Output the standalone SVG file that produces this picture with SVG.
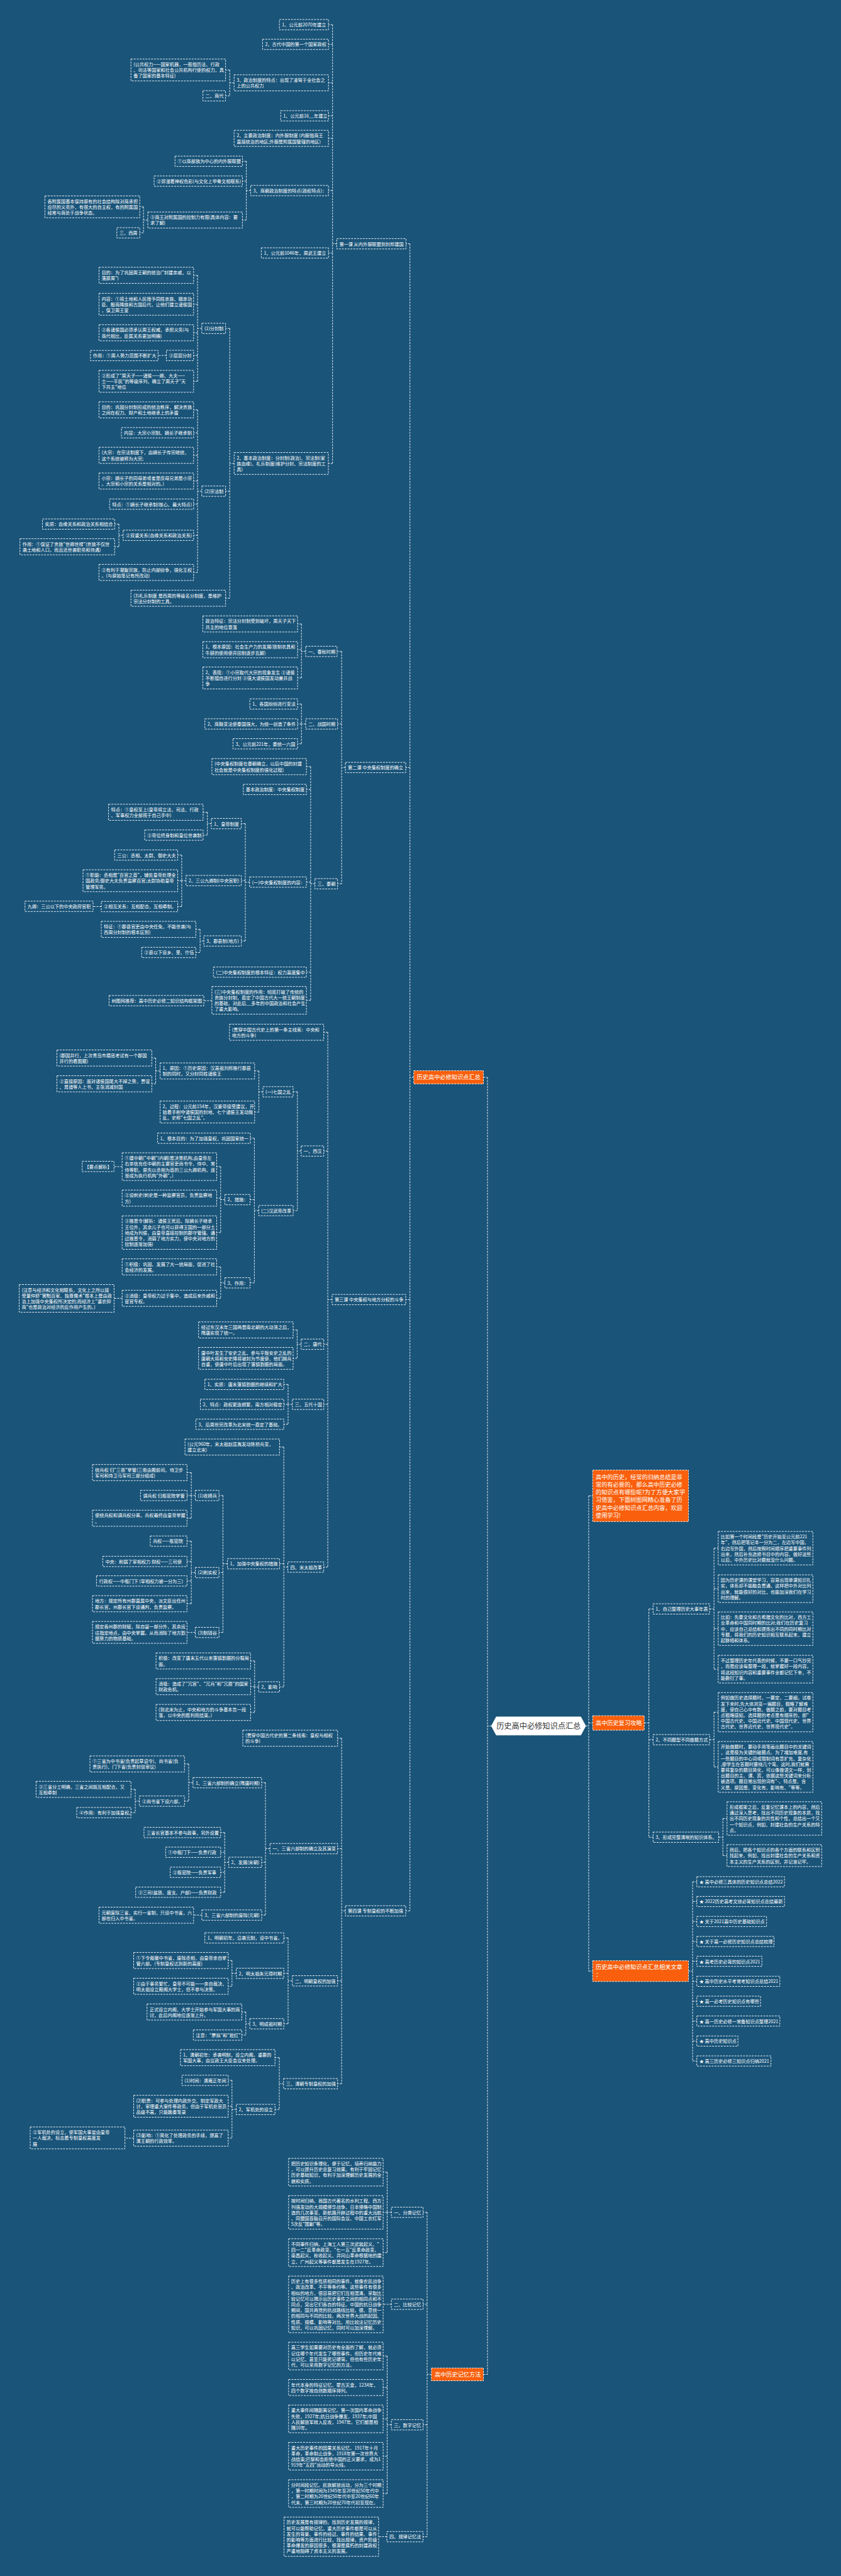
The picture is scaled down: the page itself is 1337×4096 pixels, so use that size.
<svg xmlns="http://www.w3.org/2000/svg" width="1337" height="4096" viewBox="0 0 1337 4096">
<style>
.bg{fill:#1a5479}
.n rect{fill:none;stroke:#fff;stroke-width:.9;stroke-dasharray:3 1.6}
.n text{fill:#fff;font-family:"Noto Sans CJK SC","Noto Sans",sans-serif;font-size:7.2px}
.o rect{fill:#f95f0c;stroke:#fff;stroke-width:.9;stroke-dasharray:3 1.6}
.o text{fill:#fff;font-family:"Noto Sans CJK SC","Noto Sans",sans-serif;font-size:9.2px}
.c path{fill:none;stroke:#fff;stroke-width:.9;stroke-dasharray:3 1.6}
.ctr polygon{fill:#fff;stroke:#fff;stroke-width:1}
.ctr text{fill:#333;font-family:"Noto Sans CJK SC","Noto Sans",sans-serif;font-size:12.2px;text-anchor:middle}
</style>
<rect class="bg" x="0" y="0" width="1337" height="4096"/>
<g id="connectors" class="c">
<path d="M657.8 1713H651.7M651.7 387.6V3038.4M651.7 387.6H645.4M651.7 1220.4H645M651.7 2066.4H645M651.7 3038.4H645"/>
<path d="M768.5 1713H775M775 1713V3775.4M781.3 2744.4H775M768.5 3775.4H775"/>
<path d="M931 2744.4H935.9M935.9 2378.5V3134.2M935.9 2378.5H942.2M935.9 2739.6H942.2M935.9 3134.2H942.2"/>
<path d="M535.4 387.6H528.7M528.7 39.2V736.9M528.7 39.2H522.2M528.7 70.5H522.2M528.7 131.7H522.2M528.7 184.1H522.2M528.7 220H522.2M528.7 303H522.2M528.7 402.2H522.2M528.7 736.9H522"/>
<path d="M372.2 131.7H365.2M365.2 111.3V152.4M365.2 111.3H358.6M365.2 152.4H358.6"/>
<path d="M398.6 303H391.6M391.6 256.4V349.9M391.6 256.4H385.4M391.6 288H385.4M391.6 349.9H385.4"/>
<path d="M235 349.9H228.1M228.1 328.9V370.2M228.1 328.9H222.2M228.1 370.2H222.2"/>
<path d="M372.2 736.9H365.2M365.2 522.2V951.2M365.2 522.2H358.6M365.2 781H358.6M365.2 951.2H358.6"/>
<path d="M320.9 522.2H314.1M314.1 437.8V606.3M314.1 437.8H307.8M314.1 483.8H307.8M314.1 529.1H307.8M314.1 565.2H307.8M314.1 606.3H307.8"/>
<path d="M264.5 565.2H251.3"/>
<path d="M320.9 781H314.1M314.1 651.7V910.2M314.1 651.7H307.8M314.1 688.1H307.8M314.1 724H307.8M314.1 764.9H307.8M314.1 801.6H307.8M314.1 851.2H307.8M314.1 910.2H307.8"/>
<path d="M195.8 851.2H189M189 833.3V869.4M189 833.3H182.2M189 869.4H182.2"/>
<path d="M549.1 1220.4H543.1M543.1 1035.8V1405.2M543.1 1035.8H535.9M543.1 1151.1H536.7M543.1 1405.2H536.7"/>
<path d="M486 1035.8H479.2M479.2 992.1V1078M479.2 992.1H473.1M479.2 1033.1H473.1M479.2 1078H473.1"/>
<path d="M486 1151.1H479.2M479.2 1119.4V1182.7M479.2 1119.4H473.1M479.2 1151.1H473.1M479.2 1182.7H473.1"/>
<path d="M500.7 1405.2H493.9M493.9 1219V1590.6M493.9 1219H487.1M493.9 1255.3H487.1M493.9 1402.6H487.1M493.9 1545.8H487.1M493.9 1590.6H487.1"/>
<path d="M396.8 1402.6H390M390 1309.6V1496.2M390 1309.6H383.6M390 1400.2H383.6M390 1496.2H383.6"/>
<path d="M336 1309.6H329.7M329.7 1291.6V1327.9M329.7 1291.6H322.9M329.7 1327.9H322.9"/>
<path d="M295.7 1400.2H288.9M288.9 1359.6V1441.5M288.9 1359.6H282.5M288.9 1400.4H282.5M288.9 1441.5H282.5"/>
<path d="M161 1441.5H148"/>
<path d="M324 1496.2H318.1M318.1 1477.8V1514.5M318.1 1477.8H311.3M318.1 1514.5H311.3"/>
<path d="M336.9 1591.1H324.1"/>
<path d="M527.9 2066.4H521.1M521.1 1641.3V2491.8M521.1 1641.3H514.7M521.1 1830.2H514.7M521.1 2137.4H514.7M521.1 2233H514.7M521.1 2491.8H514.7"/>
<path d="M478.8 1830.2H472.8M472.8 1736V1924.9M472.8 1736H466M472.8 1924.9H466"/>
<path d="M418 1736H411.6M411.6 1702.9V1768.2M411.6 1702.9H404.8M411.6 1768.2H404.8"/>
<path d="M254.5 1702.9H247.5M247.5 1682.3V1723.3M247.5 1682.3H241.3M247.5 1723.3H241.3"/>
<path d="M411.2 1924.9H404.4M404.4 1809.9V2039.8M404.4 1809.9H398M404.4 1907.5H397.6M404.4 2039.8H397.6"/>
<path d="M357.6 1907.5H350.8M350.8 1855V1959.9M350.8 1855H344.5M350.8 1905.1H344.5M350.8 1959.9H344.5"/>
<path d="M194.2 1855H181.2"/>
<path d="M357.6 2039.8H350.8M350.8 2014.4V2064.4M350.8 2014.4H344.5M350.8 2064.4H344.5"/>
<path d="M194.2 2064.4H181.4"/>
<path d="M478.8 2137.4H472.4M472.4 2114.7V2159.9M472.4 2114.7H466M472.4 2159.9H466"/>
<path d="M464.8 2233H458M458 2201.3V2264.6M458 2201.3H451.2M458 2233H451.2M458 2264.6H451.2"/>
<path d="M457.6 2491.8H451.2M451.2 2300.9V2682.3M451.2 2300.9H444.4M451.2 2486.5H444.4M451.2 2682.3H444.4"/>
<path d="M361.6 2486.5H354.4M354.4 2377.9V2595.7M354.4 2377.9H348.1M354.4 2500.5H348.1M354.4 2595.7H348.1"/>
<path d="M310.5 2377.9H304.1M304.1 2341.5V2414.1M304.1 2341.5H297.3M304.1 2377.9H297.3M304.1 2414.1H297.3"/>
<path d="M310.5 2500.5H304.1M304.1 2450.5V2550M304.1 2450.5H297.3M304.1 2482.8H297.3M304.1 2513.8H297.3M304.1 2550H297.3"/>
<path d="M310.5 2595.7H297.3"/>
<path d="M411.2 2682.3H404.8M404.8 2641V2722.9M404.8 2641H398.4M404.8 2681.9H398.4M404.8 2722.9H398.4"/>
<path d="M549.1 3038.4H543.1M543.1 2763.9V3313.2M543.1 2763.9H536.7M543.1 2939.5H536.7M543.1 3149.7H536.7M543.1 3313.2H536.7"/>
<path d="M429.2 2939.5H422M422 2834.6V3045.1M422 2834.6H416M422 2961.2H416M422 3045.1H416"/>
<path d="M306.9 2834.6H300M300 2804.8V2863.9M300 2804.8H293.3M300 2863.9H293.3"/>
<path d="M221.7 2863.9H215M215 2845.2V2882.2M215 2845.2H208.2M215 2882.2H208.2"/>
<path d="M363.6 2961.2H357.2M357.2 2913.8V3008.8M357.2 2913.8H350.8M357.2 2945.2H350.8M357.2 2977.1H350.8M357.2 3008.8H350.8"/>
<path d="M320.9 3045.1H307.8"/>
<path d="M464.8 3149.7H458M458 3081.4V3217.9M458 3081.4H451.2M458 3137.7H451.2M458 3217.9H451.2"/>
<path d="M375.6 3137.7H368.8M368.8 3117.3V3158.3M368.8 3117.3H362.8M368.8 3158.3H362.8"/>
<path d="M397.2 3217.9H390.8M390.8 3199.2V3235.9M390.8 3199.2H384.4M390.8 3235.9H384.4"/>
<path d="M450.8 3313.2H444M444 3271.8V3354.2M444 3271.8H437.2M444 3354.2H437.2"/>
<path d="M375.6 3354.2H368.8M368.8 3307.9V3399.8M368.8 3307.9H362.8M368.8 3349.1H362.8M368.8 3399.8H362.8"/>
<path d="M212.5 3399.8H198.6"/>
<path d="M685.8 3775.4H679M679 3517.7V4033.5M679 3517.7H672.6M679 3663.9H672.6M679 3855.6H672.6M679 4033.5H672.6"/>
<path d="M622.2 3517.7H615.5M615.5 3453.9V3581.8M615.5 3453.9H609.1M615.5 3517.8H609.1M615.5 3581.8H609.1"/>
<path d="M622.2 3663.9H609.1"/>
<path d="M622.2 3855.6H615.5M615.5 3746.2V3964.9M615.5 3746.2H609.1M615.5 3796.3H609.1M615.5 3846.2H609.1M615.5 3905.5H609.1M615.5 3964.9H609.1"/>
<path d="M615 4033.5H601.9"/>
<path d="M1024.2 2739.6H1031.6M1031.6 2558.3V2921.3M1031.6 2558.3H1038.3M1031.6 2766.2H1038.3M1031.6 2921.3H1038.3"/>
<path d="M1128.1 2558.3H1135.1M1135.1 2461.7V2654.1M1135.1 2461.7H1141.8M1135.1 2526.1H1141.8M1135.1 2589.7H1141.8M1135.1 2654.1H1141.8"/>
<path d="M1128.1 2766.2H1135.1M1135.1 2722.5V2809.5M1135.1 2722.5H1141.8M1135.1 2809.5H1141.8"/>
<path d="M1142.5 2921.3H1149.2M1149.2 2891.5V2950.5M1149.2 2891.5H1155.8M1149.2 2950.5H1155.8"/>
<path d="M1094.5 3134.2H1101.1M1101.1 2992.1V3277.1M1101.1 2992.1H1107.8M1101.1 3023.5H1107.8M1101.1 3055.3H1107.8M1101.1 3087.1H1107.8M1101.1 3118.6H1107.8M1101.1 3150.4H1107.8M1101.1 3182.1H1107.8M1101.1 3213.6H1107.8M1101.1 3245.4H1107.8M1101.1 3277.1H1107.8"/>
</g>

<g id="center" class="ctr"><polygon points="781.3,2744.4 789,2730 923.3,2730 931,2744.4 923.3,2758.8 789,2758.8"/><text x="856.2" y="2748.7">历史高中必修知识点汇总</text></g>

<g id="R1" class="o"><rect x="657.8" y="1702.5" width="110.7" height="21"/><text x="662.6" y="1716.3">历史高中必修知识点汇总</text></g>
<g id="R4" class="o"><rect x="685.8" y="3765.3" width="82.7" height="20.2"/><text x="690.9" y="3779.3">高中历史记忆方法</text></g>
<g id="O1" class="o"><rect x="942.2" y="2337.5" width="152.3" height="81.9"/><text x="947" y="2351.5"><tspan>高中的历史，经常的归纳总结是非</tspan><tspan x="947" dy="12.3">常的有必要的，那么高中历史必修</tspan><tspan x="947" dy="12.3">的知识点有哪些呢?为了方便大家学</tspan><tspan x="947" dy="12.3">习借鉴，下面树图网精心准备了历</tspan><tspan x="947" dy="12.3">史高中必修知识点汇总内容，欢迎</tspan><tspan x="947" dy="12.3">使用学习!</tspan></text></g>
<g id="O2" class="o"><rect x="942.2" y="2728.1" width="82" height="23"/><text x="947" y="2742.9">高中历史复习攻略</text></g>
<g id="O3" class="o"><rect x="942.2" y="3117.7" width="152.3" height="33"/><text x="947" y="3131"><tspan>历史高中必修知识点汇总相关文章</tspan><tspan x="947" dy="12.3">：</tspan></text></g>

<g id="n1" class="n"><rect x="444.2" y="31" width="78" height="16.4"/><text x="448.2" y="42.1">1、公元前2070年建立</text></g>
<g id="n2" class="n"><rect x="417.4" y="62.3" width="104.8" height="16.4"/><text x="421.4" y="73.4">2、古代中国的第一个国家政权</text></g>
<g id="n3" class="n"><rect x="372.2" y="118.9" width="150" height="25.6"/><text x="376.2" y="130"><tspan>3、政治制度的特点：出现了凌驾于全社会之</tspan><tspan x="376.2" dy="9.2">上的公共权力</tspan></text></g>
<g id="n4" class="n"><rect x="208.2" y="93.9" width="150.4" height="34.8"/><text x="212.2" y="105"><tspan>(公共权力——国家机器，一般指历法、行政</tspan><tspan x="212.2" dy="9.2">、司法等国家和社会公共机构行使的权力，具</tspan><tspan x="212.2" dy="9.2">备了国家的基本特征)</tspan></text></g>
<g id="n5" class="n"><rect x="322.6" y="144.2" width="36" height="16.4"/><text x="326.6" y="155.3">二、商代</text></g>
<g id="n6" class="n"><rect x="446.2" y="175.9" width="76" height="16.4"/><text x="450.2" y="187">1、公元前16__年建立</text></g>
<g id="n7" class="n"><rect x="372.2" y="207.2" width="150" height="25.6"/><text x="376.2" y="218.3"><tspan>2、主要政治制度：内外服制度 (内服指商王</tspan><tspan x="376.2" dy="9.2">直接统治的地区;外服是附属国管辖的地区)</tspan></text></g>
<g id="n8" class="n"><rect x="398.6" y="294.8" width="123.6" height="16.4"/><text x="402.6" y="305.9">3、商朝政治制度的特点(政权特点)：</text></g>
<g id="n9" class="n"><rect x="278.2" y="248.2" width="107.2" height="16.4"/><text x="282.2" y="259.3">①以商部族为中心的内外服联盟</text></g>
<g id="n10" class="n"><rect x="245" y="279.8" width="140.4" height="16.4"/><text x="249" y="290.9">②弥漫着神权色彩(与文化上甲骨文相联系)</text></g>
<g id="n11" class="n"><rect x="235" y="337.1" width="150.4" height="25.6"/><text x="239" y="348.2"><tspan>③商王对附属国的控制力有限(具体内容：要</tspan><tspan x="239" dy="9.2">求了解)</tspan></text></g>
<g id="n12" class="n"><rect x="71.4" y="311.5" width="150.8" height="34.8"/><text x="75.4" y="322.6"><tspan>各附属国基本保持原有的社会结构除对商承担</tspan><tspan x="75.4" dy="9.2">应尽的义务外，有很大的自主权，有的附属国</tspan><tspan x="75.4" dy="9.2">经常与商处于战争状态。</tspan></text></g>
<g id="n13" class="n"><rect x="185.8" y="362" width="36.4" height="16.4"/><text x="189.8" y="373.1">三、西周</text></g>
<g id="n14" class="n"><rect x="535.4" y="379.4" width="110" height="16.4"/><text x="539.4" y="390.5">第一课 从内外服联盟到封邦建国</text></g>
<g id="n15" class="n"><rect x="415.4" y="394" width="106.8" height="16.4"/><text x="419.4" y="405.1">1、公元前1046年，周武王建立</text></g>
<g id="n16" class="n"><rect x="157.4" y="425" width="150.4" height="25.6"/><text x="161.4" y="436.1"><tspan>目的：为了巩固周王朝的统治("封建亲戚，以</tspan><tspan x="161.4" dy="9.2">藩屏周")</tspan></text></g>
<g id="n17" class="n"><rect x="157.4" y="466.4" width="150.4" height="34.8"/><text x="161.4" y="477.5"><tspan>内容：①将土地和人民授予同姓亲族、姻亲功</tspan><tspan x="161.4" dy="9.2">臣、殷商降族和古国后代，让他们建立诸侯国</tspan><tspan x="161.4" dy="9.2">，保卫周王室</tspan></text></g>
<g id="n18" class="n"><rect x="320.9" y="514" width="37.7" height="16.4"/><text x="324.9" y="525.1">(1)分封制</text></g>
<g id="n19" class="n"><rect x="157.4" y="516.3" width="150.4" height="25.6"/><text x="161.4" y="527.4"><tspan>②各诸侯国必须承认周王权威，承担义务(与</tspan><tspan x="161.4" dy="9.2">商代相比，臣属关系更加明确)</tspan></text></g>
<g id="n20" class="n"><rect x="264.5" y="557" width="43.3" height="16.4"/><text x="268.5" y="568.1">③层层分封</text></g>
<g id="n21" class="n"><rect x="143.8" y="557.2" width="107.5" height="16.4"/><text x="147.8" y="568.3">作用：①周人势力范围不断扩大</text></g>
<g id="n22" class="n"><rect x="157.4" y="588.9" width="150.4" height="34.8"/><text x="161.4" y="600"><tspan>②形成了"周天子——诸侯——卿、大夫——</tspan><tspan x="161.4" dy="9.2">士——平民"的等级序列，确立了周天子"天</tspan><tspan x="161.4" dy="9.2">下共主"地位</tspan></text></g>
<g id="n23" class="n"><rect x="157.4" y="638.9" width="150.4" height="25.6"/><text x="161.4" y="650"><tspan>目的：巩固分封制形成的统治秩序，解决贵族</tspan><tspan x="161.4" dy="9.2">之间在权力、财产和土地继承上的矛盾</tspan></text></g>
<g id="n24" class="n"><rect x="193" y="679.9" width="114.8" height="16.4"/><text x="197" y="691">内容：大宗小宗制、嫡长子继承制</text></g>
<g id="n25" class="n"><rect x="157.4" y="711.2" width="150.4" height="25.6"/><text x="161.4" y="722.3"><tspan>(大宗：在宗法制度下，由嫡长子传宗继统，</tspan><tspan x="161.4" dy="9.2">这个系统被称为大宗;</tspan></text></g>
<g id="n26" class="n"><rect x="157.4" y="752.1" width="150.4" height="25.6"/><text x="161.4" y="763.2"><tspan>小宗：嫡长子的同母弟或者是庶母兄弟是小宗</tspan><tspan x="161.4" dy="9.2">。大宗和小宗的关系是相对的。)</tspan></text></g>
<g id="n27" class="n"><rect x="320.9" y="772.8" width="37.7" height="16.4"/><text x="324.9" y="783.9">(2)宗法制</text></g>
<g id="n28" class="n"><rect x="174.2" y="793.4" width="133.6" height="16.4"/><text x="178.2" y="804.5">特点：①嫡长子继承制(核心、最大特点)</text></g>
<g id="n29" class="n"><rect x="67.5" y="825.1" width="114.7" height="16.4"/><text x="71.5" y="836.2">实质：血缘关系和政治关系相结合</text></g>
<g id="n30" class="n"><rect x="195.8" y="843" width="112" height="16.4"/><text x="199.8" y="854.1">②双重关系(血缘关系和政治关系)</text></g>
<g id="n31" class="n"><rect x="31.7" y="856.6" width="150.5" height="25.6"/><text x="35.7" y="867.7"><tspan>作用：①保证了贵族"世卿世禄"(贵族不仅世</tspan><tspan x="35.7" dy="9.2">袭土地和人口，而且还世袭职务和待遇)</tspan></text></g>
<g id="n32" class="n"><rect x="157.4" y="897.4" width="150.4" height="25.6"/><text x="161.4" y="908.5"><tspan>②有利于凝聚宗族，防止内部纷争，强化王权</tspan><tspan x="161.4" dy="9.2">。(与原始笔记有所改动)</tspan></text></g>
<g id="n33" class="n"><rect x="208.2" y="938.4" width="150.4" height="25.6"/><text x="212.2" y="949.5"><tspan>(3)礼乐制度 是西周的等级名分制度，是维护</tspan><tspan x="212.2" dy="9.2">宗法分封制的工具。</tspan></text></g>
<g id="n34" class="n"><rect x="372.2" y="719.5" width="149.8" height="34.8"/><text x="376.2" y="730.6"><tspan>2、基本政治制度：分封制(政治)、宗法制(家</tspan><tspan x="376.2" dy="9.2">族血缘)、礼乐制度(维护分封、宗法制度的工</tspan><tspan x="376.2" dy="9.2">具)</tspan></text></g>

<g id="m1" class="n"><rect x="486" y="1027.6" width="49.9" height="16.4"/><text x="490" y="1038.7">一、春秋时期</text></g>
<g id="m2" class="n"><rect x="322.5" y="979.3" width="150.6" height="25.6"/><text x="326.5" y="990.4"><tspan>政治特征：宗法分封制受到破坏，周天子天下</tspan><tspan x="326.5" dy="9.2">共主的地位衰落</tspan></text></g>
<g id="m3" class="n"><rect x="322.5" y="1020.3" width="150.6" height="25.6"/><text x="326.5" y="1031.4"><tspan>1、根本原因：社会生产力的发展(铁制农具和</tspan><tspan x="326.5" dy="9.2">牛耕的使用使井田制逐步瓦解)</tspan></text></g>
<g id="m4" class="n"><rect x="322.5" y="1060.6" width="150.6" height="34.8"/><text x="326.5" y="1071.7"><tspan>2、表现：①小宗取代大宗的现象发生 ②诸侯</tspan><tspan x="326.5" dy="9.2">不断擅自进行分封 ③强大诸侯国发动兼并战</tspan><tspan x="326.5" dy="9.2">争</tspan></text></g>
<g id="m5" class="n"><rect x="397.2" y="1111.2" width="75.9" height="16.4"/><text x="401.2" y="1122.3">1、各国纷纷进行变法</text></g>
<g id="m6" class="n"><rect x="325.7" y="1142.9" width="147.4" height="16.4"/><text x="329.7" y="1154">2、商鞅变法使秦国强大，为统一创造了条件</text></g>
<g id="m7" class="n"><rect x="486" y="1142.9" width="50.7" height="16.4"/><text x="490" y="1154">二、战国时期</text></g>
<g id="m8" class="n"><rect x="370.4" y="1174.5" width="102.7" height="16.4"/><text x="374.4" y="1185.6">3、公元前221年，秦统一六国</text></g>
<g id="m9" class="n"><rect x="336.9" y="1206.2" width="150.2" height="25.6"/><text x="340.9" y="1217.3"><tspan>(中央集权制度在秦朝确立，以后中国的封建</tspan><tspan x="340.9" dy="9.2">社会就是中央集权制度的强化过程)</tspan></text></g>
<g id="m10" class="n"><rect x="549.1" y="1212.2" width="95.9" height="16.4"/><text x="553.1" y="1223.3">第二课 中央集权制度的确立</text></g>
<g id="m11" class="n"><rect x="386.8" y="1247.1" width="100.3" height="16.4"/><text x="390.8" y="1258.2">基本政治制度：中央集权制度</text></g>
<g id="m12" class="n"><rect x="172.6" y="1278.8" width="150.3" height="25.6"/><text x="176.6" y="1289.9"><tspan>特点：①皇权至上(皇帝将立法、司法、行政</tspan><tspan x="176.6" dy="9.2">、军事权力全部揽于自己手中)</tspan></text></g>
<g id="m13" class="n"><rect x="336" y="1301.4" width="47.6" height="16.4"/><text x="340" y="1312.5">1、皇帝制度</text></g>
<g id="m14" class="n"><rect x="230.1" y="1319.7" width="92.8" height="16.4"/><text x="234.1" y="1330.8">②帝位终身制和皇位世袭制</text></g>
<g id="m15" class="n"><rect x="182.2" y="1351.4" width="100.3" height="16.4"/><text x="186.2" y="1362.5">三公：丞相、太尉、御史大夫</text></g>
<g id="m16" class="n"><rect x="132" y="1383" width="150.5" height="34.8"/><text x="136" y="1394.1"><tspan>①职能：丞相是"百官之首"，辅佐皇帝处理全</tspan><tspan x="136" dy="9.2">国政务;御史大夫负责监察百官;太尉协助皇帝</tspan><tspan x="136" dy="9.2">管理军务。</tspan></text></g>
<g id="m17" class="n"><rect x="295.7" y="1392" width="87.9" height="16.4"/><text x="299.7" y="1403.1">2、三公九卿制(中央官职)</text></g>
<g id="m18" class="n"><rect x="396.8" y="1394.4" width="90.3" height="16.4"/><text x="400.8" y="1405.5">(一)中央集权制度的内容：</text></g>
<g id="m19" class="n"><rect x="500.7" y="1397" width="36" height="16.4"/><text x="504.7" y="1408.1">三、秦朝</text></g>
<g id="m20" class="n"><rect x="161" y="1433.3" width="121.5" height="16.4"/><text x="165" y="1444.4">②相互关系：互相配合、互相牵制。</text></g>
<g id="m21" class="n"><rect x="39.7" y="1432.9" width="108.3" height="16.4"/><text x="43.7" y="1444">九卿：三公以下的中央政府官职</text></g>
<g id="m22" class="n"><rect x="161" y="1465" width="150.3" height="25.6"/><text x="165" y="1476.1"><tspan>特征：①郡县官吏由中央任免，不能世袭(与</tspan><tspan x="165" dy="9.2">西周分封制的根本区别)</tspan></text></g>
<g id="m23" class="n"><rect x="324" y="1488" width="59.6" height="16.4"/><text x="328" y="1499.1">3、郡县制(地方)</text></g>
<g id="m24" class="n"><rect x="225.3" y="1506.3" width="86" height="16.4"/><text x="229.3" y="1517.4">②县以下设乡、里、什伍</text></g>
<g id="m25" class="n"><rect x="339.3" y="1537.6" width="147.8" height="16.4"/><text x="343.3" y="1548.7">(二)中央集权制度的根本特征：权力高度集中</text></g>
<g id="m26" class="n"><rect x="336.9" y="1568.6" width="150.2" height="44"/><text x="340.9" y="1579.7"><tspan>(三)中央集权制度的作用：彻底打破了传统的</tspan><tspan x="340.9" dy="9.2">贵族分封制，奠定了中国古代大一统王朝制度</tspan><tspan x="340.9" dy="9.2">的基础，对此后__多年的中国政治和社会产生</tspan><tspan x="340.9" dy="9.2">了重大影响。</tspan></text></g>
<g id="m27" class="n"><rect x="173.4" y="1582.9" width="150.7" height="16.4"/><text x="177.4" y="1594">树图网推荐：高中历史必修二知识结构框架图</text></g>

<g id="p1" class="n"><rect x="364.8" y="1628.5" width="149.9" height="25.6"/><text x="368.8" y="1639.6"><tspan>(贯穿中国古代史上的第一条主线索：中央和</tspan><tspan x="368.8" dy="9.2">地方的斗争)</tspan></text></g>
<g id="p2" class="n"><rect x="90.5" y="1669.5" width="150.8" height="25.6"/><text x="94.5" y="1680.6"><tspan>(郡国并行，上次青岛市摸底考试有一个郡国</tspan><tspan x="94.5" dy="9.2">并行的看图题)</tspan></text></g>
<g id="p3" class="n"><rect x="254.5" y="1690.1" width="150.3" height="25.6"/><text x="258.5" y="1701.2"><tspan>1、原因：①历史原因：汉高祖刘邦推行郡县</tspan><tspan x="258.5" dy="9.2">制的同时，又分封同姓诸侯王</tspan></text></g>
<g id="p4" class="n"><rect x="90.5" y="1710.5" width="150.8" height="25.6"/><text x="94.5" y="1721.6"><tspan>②直接原因：面对诸侯国尾大不掉之势，贾谊</tspan><tspan x="94.5" dy="9.2">、晁错等人上书，主张消减封国</tspan></text></g>
<g id="p5" class="n"><rect x="418" y="1727.8" width="48" height="16.4"/><text x="422" y="1738.9">(一)七国之乱</text></g>
<g id="p6" class="n"><rect x="254.5" y="1750.8" width="150.3" height="34.8"/><text x="258.5" y="1761.9"><tspan>2、过程：公元前154年，汉景帝接受建议，开</tspan><tspan x="258.5" dy="9.2">始着手削夺诸侯国的封地，七个诸侯王发动叛</tspan><tspan x="258.5" dy="9.2">乱，史称"七国之乱"。</tspan></text></g>
<g id="p7" class="n"><rect x="250.5" y="1801.7" width="147.5" height="16.4"/><text x="254.5" y="1812.8">1、根本目的：为了加强皇权，巩固国家统一</text></g>
<g id="p8" class="n"><rect x="478.8" y="1822" width="35.9" height="16.4"/><text x="482.8" y="1833.1">一、西汉</text></g>
<g id="p9" class="n"><rect x="130.6" y="1846.5" width="50.6" height="16.4"/><text x="134.6" y="1857.6">【要点解析】</text></g>
<g id="p10" class="n"><rect x="194.2" y="1833" width="150.3" height="44"/><text x="198.2" y="1844.1"><tspan>①建中朝("中朝"(内朝)是决策机构,由皇帝左</tspan><tspan x="198.2" dy="9.2">右亲信充任中朝的主要官吏尚书令、侍中、常</tspan><tspan x="198.2" dy="9.2">侍等职。原先以丞相为首的三公九卿机构，逐</tspan><tspan x="198.2" dy="9.2">渐成为执行机构"外朝"。)</tspan></text></g>
<g id="p11" class="n"><rect x="194.2" y="1892.3" width="150.3" height="25.6"/><text x="198.2" y="1903.4"><tspan>②设刺史(刺史是一种监察官员，负责监察地</tspan><tspan x="198.2" dy="9.2">方)</tspan></text></g>
<g id="p12" class="n"><rect x="357.6" y="1899.3" width="40" height="16.4"/><text x="361.6" y="1910.4">2、措施：</text></g>
<g id="p13" class="n"><rect x="411.2" y="1916.7" width="54.8" height="16.4"/><text x="415.2" y="1927.8">(二)汉武帝改革</text></g>
<g id="p14" class="n"><rect x="194.2" y="1933.3" width="150.3" height="53.2"/><text x="198.2" y="1944.4"><tspan>③推恩令(解析：诸侯王死后，除嫡长子继承</tspan><tspan x="198.2" dy="9.2">王位外，其余儿子也可以获得王国的一部分土</tspan><tspan x="198.2" dy="9.2">地成为列侯，由皇帝直接控制的郡守管辖。通</tspan><tspan x="198.2" dy="9.2">过推恩令，消弱了地方实力，使中央对地方的</tspan><tspan x="198.2" dy="9.2">控制逐渐加强)</tspan></text></g>
<g id="p15" class="n"><rect x="194.2" y="2001.6" width="150.3" height="25.6"/><text x="198.2" y="2012.7"><tspan>①积极：巩固、发展了大一统局面，促进了社</tspan><tspan x="198.2" dy="9.2">会经济的发展。</tspan></text></g>
<g id="p16" class="n"><rect x="357.6" y="2031.6" width="40" height="16.4"/><text x="361.6" y="2042.7">3、作用：</text></g>
<g id="p17" class="n"><rect x="30.5" y="2042.5" width="150.9" height="44"/><text x="34.5" y="2053.6"><tspan>(注意与经济和文化相联系，文化上之所以接</tspan><tspan x="34.5" dy="9.2">受董仲舒"罢黜百家、独尊儒术"根本上是由政</tspan><tspan x="34.5" dy="9.2">治上加强中央集权所决定的;而经济上"重农抑</tspan><tspan x="34.5" dy="9.2">商"也是政治对经济的反作用产生的。)</tspan></text></g>
<g id="p18" class="n"><rect x="194.2" y="2051.6" width="150.3" height="25.6"/><text x="198.2" y="2062.7"><tspan>②消极：皇帝权力过于集中，造成后来外戚和</tspan><tspan x="198.2" dy="9.2">宦官专权。</tspan></text></g>
<g id="p19" class="n"><rect x="527.9" y="2058.2" width="117.1" height="16.4"/><text x="531.9" y="2069.3">第三课 中央集权与地方分权的斗争</text></g>
<g id="p20" class="n"><rect x="315.7" y="2101.9" width="150.3" height="25.6"/><text x="319.7" y="2113"><tspan>经过东汉末年三国两晋南北朝的大动荡之后，</tspan><tspan x="319.7" dy="9.2">隋唐实现了统一。</tspan></text></g>
<g id="p21" class="n"><rect x="478.8" y="2129.2" width="35.9" height="16.4"/><text x="482.8" y="2140.3">二、唐代</text></g>
<g id="p22" class="n"><rect x="315.7" y="2142.5" width="150.3" height="34.8"/><text x="319.7" y="2153.6"><tspan>唐中叶发生了安史之乱，参与平叛安史之乱的</tspan><tspan x="319.7" dy="9.2">唐朝大将和安史降将被封为节度使，他们拥兵</tspan><tspan x="319.7" dy="9.2">自重，使唐中叶后出现了藩镇割据的局面。</tspan></text></g>
<g id="p23" class="n"><rect x="325.7" y="2193.1" width="125.5" height="16.4"/><text x="329.7" y="2204.2">1、实质：唐末藩镇割据的继续和扩大</text></g>
<g id="p24" class="n"><rect x="318.5" y="2224.8" width="132.7" height="16.4"/><text x="322.5" y="2235.9">2、特点：政权更迭频繁，南方相对稳定</text></g>
<g id="p25" class="n"><rect x="464.8" y="2224.8" width="49.9" height="16.4"/><text x="468.8" y="2235.9">三、五代十国</text></g>
<g id="p26" class="n"><rect x="311.3" y="2256.4" width="139.9" height="16.4"/><text x="315.3" y="2267.5">3、后周世宗改革为北宋统一奠定了基础。</text></g>
<g id="p27" class="n"><rect x="294.1" y="2288.1" width="150.3" height="25.6"/><text x="298.1" y="2299.2"><tspan>(公元960年，宋太祖赵匡胤发动陈桥兵变，</tspan><tspan x="298.1" dy="9.2">建立北宋)</tspan></text></g>
<g id="p28" class="n"><rect x="147" y="2328.7" width="150.3" height="25.6"/><text x="151" y="2339.8"><tspan>统兵权 归"三衙"掌管(三衙由殿前司、侍卫步</tspan><tspan x="151" dy="9.2">军司和侍卫马军司三部分组成)</tspan></text></g>
<g id="p29" class="n"><rect x="223.3" y="2369.7" width="74" height="16.4"/><text x="227.3" y="2380.8">调兵权 归枢密院掌管</text></g>
<g id="p30" class="n"><rect x="310.5" y="2369.7" width="37.6" height="16.4"/><text x="314.5" y="2380.8">(1)收精兵</text></g>
<g id="p31" class="n"><rect x="147" y="2401.3" width="150.3" height="25.6"/><text x="151" y="2412.4"><tspan>使统兵权和调兵权分离，兵权最终由皇帝掌握</tspan><tspan x="151" dy="9.2">。</tspan></text></g>
<g id="p32" class="n"><rect x="238.9" y="2442.3" width="58.4" height="16.4"/><text x="242.9" y="2453.4">兵权——枢密院</text></g>
<g id="p33" class="n"><rect x="163.4" y="2474.6" width="133.9" height="16.4"/><text x="167.4" y="2485.7">中央：削弱了宰相权力 财权——三司使</text></g>
<g id="p34" class="n"><rect x="361.6" y="2478.3" width="82.8" height="16.4"/><text x="365.6" y="2489.4">1、加强中央集权的措施</text></g>
<g id="p35" class="n"><rect x="457.6" y="2483.6" width="57.1" height="16.4"/><text x="461.6" y="2494.7">四、宋太祖改革</text></g>
<g id="p36" class="n"><rect x="310.5" y="2492.3" width="37.6" height="16.4"/><text x="314.5" y="2503.4">(2)削实权</text></g>
<g id="p37" class="n"><rect x="153.4" y="2505.6" width="143.9" height="16.4"/><text x="157.4" y="2516.7">行政权——中枢门下 (宰相权力被一分为三)</text></g>
<g id="p38" class="n"><rect x="147" y="2537.2" width="150.3" height="25.6"/><text x="151" y="2548.3"><tspan>地方：规定所有州郡直属中央，派文臣出任州</tspan><tspan x="151" dy="9.2">郡长官，州郡长官下设通判，负责监察。</tspan></text></g>
<g id="p39" class="n"><rect x="147" y="2578.2" width="150.3" height="34.8"/><text x="151" y="2589.3"><tspan>规定各州郡的财赋，除自留一部分外，其余运</tspan><tspan x="151" dy="9.2">往指定地点，由中央掌握。从而消除了地方割</tspan><tspan x="151" dy="9.2">据势力的物质基础。</tspan></text></g>
<g id="p40" class="n"><rect x="310.5" y="2587.5" width="37.6" height="16.4"/><text x="314.5" y="2598.6">(3)制钱谷</text></g>
<g id="p41" class="n"><rect x="248.1" y="2628.2" width="150.3" height="25.6"/><text x="252.1" y="2639.3"><tspan>积极：改变了唐末五代以来藩镇割据的分裂局</tspan><tspan x="252.1" dy="9.2">面。</tspan></text></g>
<g id="p42" class="n"><rect x="248.1" y="2669.1" width="150.3" height="25.6"/><text x="252.1" y="2680.2"><tspan>消极：造成了"冗官"、"冗兵"和"冗费"的国家</tspan><tspan x="252.1" dy="9.2">财政危机。</tspan></text></g>
<g id="p43" class="n"><rect x="411.2" y="2674.1" width="33.2" height="16.4"/><text x="415.2" y="2685.2">2、影响</text></g>
<g id="p44" class="n"><rect x="248.1" y="2710.1" width="150.3" height="25.6"/><text x="252.1" y="2721.2"><tspan>(到北宋为止，中央和地方的斗争基本告一段</tspan><tspan x="252.1" dy="9.2">落，以中央的胜利而结束。)</tspan></text></g>

<g id="q1" class="n"><rect x="386" y="2751.1" width="150.7" height="25.6"/><text x="390" y="2762.2"><tspan>(贯穿中国古代史的第二条线索：皇权与相权</tspan><tspan x="390" dy="9.2">的斗争)</tspan></text></g>
<g id="q2" class="n"><rect x="143" y="2792" width="150.3" height="25.6"/><text x="147" y="2803.1"><tspan>①三省为中书省(负责起草诏令)、尚书省(负</tspan><tspan x="147" dy="9.2">责执行)、门下省(负责封驳审议)</tspan></text></g>
<g id="q3" class="n"><rect x="306.9" y="2826.4" width="109.1" height="16.4"/><text x="310.9" y="2837.5">1、三省六部制的确立(隋唐时期)</text></g>
<g id="q4" class="n"><rect x="57.4" y="2832.4" width="150.8" height="25.6"/><text x="61.4" y="2843.5"><tspan>③三省分工明确，三省之间既互相配合，又</tspan><tspan x="61.4" dy="9.2">互相牵制</tspan></text></g>
<g id="q5" class="n"><rect x="221.7" y="2855.7" width="71.6" height="16.4"/><text x="225.7" y="2866.8">②尚书省下设六部。</text></g>
<g id="q6" class="n"><rect x="122" y="2874" width="86.2" height="16.4"/><text x="126" y="2885.1">④作用：有利于加强皇权。</text></g>
<g id="q7" class="n"><rect x="228.9" y="2905.6" width="121.9" height="16.4"/><text x="232.9" y="2916.7">三省长官基本不参与政事，另外设置</text></g>
<g id="q8" class="n"><rect x="429.2" y="2931.3" width="107.5" height="16.4"/><text x="433.2" y="2942.4">一、三省六部制的确立及其演变</text></g>
<g id="q9" class="n"><rect x="263.3" y="2937" width="87.5" height="16.4"/><text x="267.3" y="2948.1">①中枢门下——负责行政</text></g>
<g id="q10" class="n"><rect x="363.6" y="2953" width="52.4" height="16.4"/><text x="367.6" y="2964.1">2、发展(宋朝)</text></g>
<g id="q11" class="n"><rect x="270.5" y="2968.9" width="80.3" height="16.4"/><text x="274.5" y="2980">②枢密院——负责军事</text></g>
<g id="q12" class="n"><rect x="215.7" y="3000.6" width="135.1" height="16.4"/><text x="219.7" y="3011.7">③三司(盐铁、度支、户部)——负责财政</text></g>
<g id="q13" class="n"><rect x="157.4" y="3032.5" width="150.4" height="25.6"/><text x="161.4" y="3043.6"><tspan>元朝废除三省、实行一省制，只设中书省，六</tspan><tspan x="161.4" dy="9.2">部也归入中书省。</tspan></text></g>
<g id="q14" class="n"><rect x="320.9" y="3036.9" width="95.1" height="16.4"/><text x="324.9" y="3048">3、三省六部制的废除(元朝)</text></g>
<g id="q15" class="n"><rect x="549.1" y="3030.2" width="95.9" height="16.4"/><text x="553.1" y="3041.3">第四课 专制皇权的不断加强</text></g>
<g id="q16" class="n"><rect x="325.7" y="3073.2" width="125.5" height="16.4"/><text x="329.7" y="3084.3">1、明朝初年，沿袭元制，设中书省。</text></g>
<g id="q17" class="n"><rect x="212.5" y="3104.5" width="150.3" height="25.6"/><text x="216.5" y="3115.6"><tspan>①下令裁撤中书省，废除丞相，由皇帝亲自掌</tspan><tspan x="216.5" dy="9.2">管六部。(专制皇权达到新的高度)</tspan></text></g>
<g id="q18" class="n"><rect x="375.6" y="3129.5" width="75.6" height="16.4"/><text x="379.6" y="3140.6">2、明太祖朱元璋时期</text></g>
<g id="q19" class="n"><rect x="212.5" y="3145.5" width="150.3" height="25.6"/><text x="216.5" y="3156.6"><tspan>②由于事务繁忙，皇帝不可能一一亲自裁决，</tspan><tspan x="216.5" dy="9.2">明太祖设立殿阁大学士，但不参与决策。</tspan></text></g>
<g id="q20" class="n"><rect x="464.8" y="3141.5" width="71.9" height="16.4"/><text x="468.8" y="3152.6">二、明朝皇权的加强</text></g>
<g id="q21" class="n"><rect x="233.7" y="3186.4" width="150.7" height="25.6"/><text x="237.7" y="3197.5"><tspan>正式设立内阁，大学士开始参与军国大事的商</tspan><tspan x="237.7" dy="9.2">讨，此后内阁地位逐渐上升。</tspan></text></g>
<g id="q22" class="n"><rect x="397.2" y="3209.7" width="54" height="16.4"/><text x="401.2" y="3220.8">3、明成祖时期</text></g>
<g id="q23" class="n"><rect x="307.3" y="3227.7" width="77.1" height="16.4"/><text x="311.3" y="3238.8">注意："票拟"和"批红"</text></g>
<g id="q24" class="n"><rect x="286.9" y="3259" width="150.3" height="25.6"/><text x="290.9" y="3270.1"><tspan>1、清朝初年：承袭明制，设立内阁。重要的</tspan><tspan x="290.9" dy="9.2">军国大事，由议政王大臣会议来处理。</tspan></text></g>
<g id="q25" class="n"><rect x="289.3" y="3299.7" width="73.5" height="16.4"/><text x="293.3" y="3310.8">(1)时间：清雍正年间</text></g>
<g id="q26" class="n"><rect x="450.8" y="3305" width="85.9" height="16.4"/><text x="454.8" y="3316.1">三、清朝专制皇权的加强</text></g>
<g id="q27" class="n"><rect x="212.5" y="3331.7" width="150.3" height="34.8"/><text x="216.5" y="3342.8"><tspan>(2)职责：可参与处理内政外交、制定军政大</tspan><tspan x="216.5" dy="9.2">计、审理重大案件等政务，但由于军机处官员</tspan><tspan x="216.5" dy="9.2">品级不高，只能跪奏笔录</tspan></text></g>
<g id="q28" class="n"><rect x="375.6" y="3346" width="61.6" height="16.4"/><text x="379.6" y="3357.1">2、军机处的设立</text></g>
<g id="q29" class="n"><rect x="48" y="3382" width="150.6" height="34.8"/><text x="52" y="3393.1"><tspan>②军机处的设立，使军国大事皆由皇帝</tspan><tspan x="52" dy="9.2">一人裁决，标志着专制皇权高度发</tspan><tspan x="52" dy="9.2">展</tspan></text></g>
<g id="q30" class="n"><rect x="212.5" y="3387" width="150.3" height="25.6"/><text x="216.5" y="3398.1"><tspan>(3)影响：①简化了处理政务的手续，提高了</tspan><tspan x="216.5" dy="9.2">清王朝的行政效率。</tspan></text></g>

<g id="s1" class="n"><rect x="458.8" y="3431.9" width="150.3" height="44"/><text x="462.8" y="3443"><tspan>把历史知识条理化，便于记忆，培养归纳能力</tspan><tspan x="462.8" dy="9.2">，可以提升历史总复习效果。有利于牢固记忆</tspan><tspan x="462.8" dy="9.2">历史基础知识，有利于加深理解历史发展的全</tspan><tspan x="462.8" dy="9.2">貌和实质。</tspan></text></g>
<g id="s2" class="n"><rect x="458.8" y="3491.2" width="150.3" height="53.2"/><text x="462.8" y="3502.3"><tspan>按时间归纳。我国古代著名的水利工程、西方</tspan><tspan x="462.8" dy="9.2">列强发动的大规模侵华战争、日本侵略中国制</tspan><tspan x="462.8" dy="9.2">造的几次事变、新航路开辟过程中的重大远航</tspan><tspan x="462.8" dy="9.2">、同盟国首脑召开的国际会议、中国工农红军</tspan><tspan x="462.8" dy="9.2">5次反"围剿"等。</tspan></text></g>
<g id="s3" class="n"><rect x="622.2" y="3509.5" width="50.4" height="16.4"/><text x="626.2" y="3520.6">一、分类记忆</text></g>
<g id="s4" class="n"><rect x="458.8" y="3559.8" width="150.3" height="44"/><text x="462.8" y="3570.9"><tspan>不同事件归纳。上海工人第三次武装起义、"</tspan><tspan x="462.8" dy="9.2">四一二"反革命政变、"七一五"反革命政变、</tspan><tspan x="462.8" dy="9.2">南昌起义、秋收起义、井冈山革命根据地的建</tspan><tspan x="462.8" dy="9.2">立、广州起义等事件都是发生在1927年。</tspan></text></g>
<g id="s5" class="n"><rect x="458.8" y="3619.1" width="150.3" height="90"/><text x="462.8" y="3630.2"><tspan>历史上有很多性质相同的事件，就像农民战争</tspan><tspan x="462.8" dy="9.2">、政治改革、不平等条约等。这些事件有很多</tspan><tspan x="462.8" dy="9.2">相似的地方，很容易把它们互相混淆。采取比</tspan><tspan x="462.8" dy="9.2">较记忆可以揭示出历史事件之间的相同点和不</tspan><tspan x="462.8" dy="9.2">同点，突出它们各自的特征。中国的抗日战争</tspan><tspan x="462.8" dy="9.2">期间，国共两党的抗战路线比较。德、意统一</tspan><tspan x="462.8" dy="9.2">的相同与不同的比较。两次世界大战的起因、</tspan><tspan x="462.8" dy="9.2">性质、规模、影响等对比。用比较法记忆历史</tspan><tspan x="462.8" dy="9.2">知识，可以巩固记忆，同时可以加深理解。</tspan></text></g>
<g id="s6" class="n"><rect x="622.2" y="3655.7" width="50.4" height="16.4"/><text x="626.2" y="3666.8">二、比较记忆</text></g>
<g id="s7" class="n"><rect x="458.8" y="3724.2" width="150.3" height="44"/><text x="462.8" y="3735.3"><tspan>高三学生如果要对历史有全面的了解，就必须</tspan><tspan x="462.8" dy="9.2">记住哪个年代发生了哪些事件。但历史年代难</tspan><tspan x="462.8" dy="9.2">以记忆，甚至只能死记硬背。但也有些历史年</tspan><tspan x="462.8" dy="9.2">代，可以采用数字记忆的方法。</tspan></text></g>
<g id="s8" class="n"><rect x="458.8" y="3783.5" width="150.3" height="25.6"/><text x="462.8" y="3794.6"><tspan>年代本身的特征记忆。蒙古灭金，1234年，</tspan><tspan x="462.8" dy="9.2">四个数字按自然数顺序排列。</tspan></text></g>
<g id="s9" class="n"><rect x="458.8" y="3824.2" width="150.3" height="44"/><text x="462.8" y="3835.3"><tspan>重大事件间隔距离记忆。第一次国内革命战争</tspan><tspan x="462.8" dy="9.2">失败，1927年;抗日战争爆发，1937年;中国</tspan><tspan x="462.8" dy="9.2">人民解放军转入反攻，1947年。它们都是相</tspan><tspan x="462.8" dy="9.2">隔10年。</tspan></text></g>
<g id="s10" class="n"><rect x="622.2" y="3847.4" width="50.4" height="16.4"/><text x="626.2" y="3858.5">三、数字记忆</text></g>
<g id="s11" class="n"><rect x="458.8" y="3883.5" width="150.3" height="44"/><text x="462.8" y="3894.6"><tspan>重大历史事件的因果关系记忆。1917年十月</tspan><tspan x="462.8" dy="9.2">革命，革命制止战争，1918年第一次世界大</tspan><tspan x="462.8" dy="9.2">战结束;巴黎和会拒绝中国的正义要求，成为1</tspan><tspan x="462.8" dy="9.2">919年"五四"运动的导火线。</tspan></text></g>
<g id="s12" class="n"><rect x="458.8" y="3942.9" width="150.3" height="44"/><text x="462.8" y="3954"><tspan>分时间段记忆。民族解放运动，分为三个时期</tspan><tspan x="462.8" dy="9.2">，第一时期时间为1945年至20世纪50年代中</tspan><tspan x="462.8" dy="9.2">，第二时期为20世纪50年代中至20世纪60年</tspan><tspan x="462.8" dy="9.2">代末，第三时期为20世纪70年代初至现在。</tspan></text></g>
<g id="s13" class="n"><rect x="451.6" y="4002.3" width="150.3" height="62.4"/><text x="455.6" y="4013.4"><tspan>历史发展是有规律的。找到历史发展的规律，</tspan><tspan x="455.6" dy="9.2">就可以能帮助记忆。重大历史事件都是可以从</tspan><tspan x="455.6" dy="9.2">发生的背景、事件的经过、事件的结果、事件</tspan><tspan x="455.6" dy="9.2">的影响等方面进行比较，找出规律。资产阶级</tspan><tspan x="455.6" dy="9.2">革命爆发的原因很多，根源是腐朽的封建政权</tspan><tspan x="455.6" dy="9.2">严重地阻碍了资本主义的发展。</tspan></text></g>
<g id="s14" class="n"><rect x="615" y="4025.3" width="57.6" height="16.4"/><text x="619" y="4036.4">四、规律记忆法</text></g>

<g id="a1" class="n"><rect x="1141.8" y="2435.1" width="150.5" height="53.2"/><text x="1145.8" y="2446.2"><tspan>比如第一个时间段是"历史开始至公元前221</tspan><tspan x="1145.8" dy="9.2">年"，然后把笔记本一分为二，左边写中国，</tspan><tspan x="1145.8" dy="9.2">右边写外国，然后按照时间顺序把重要事件列</tspan><tspan x="1145.8" dy="9.2">出来，然后补充选修书目中的内容。做好这些</tspan><tspan x="1145.8" dy="9.2">以后，中外历史比对题就没什么问题。</tspan></text></g>
<g id="a2" class="n"><rect x="1141.8" y="2504.1" width="150.5" height="44"/><text x="1145.8" y="2515.2"><tspan>因为历史课的课堂学习，容易出现单课知识扎</tspan><tspan x="1145.8" dy="9.2">实，体系却不能融会贯通，这样把中外对比列</tspan><tspan x="1145.8" dy="9.2">出来，就能很好的对比，也能加深我们在学习</tspan><tspan x="1145.8" dy="9.2">时的理解。</tspan></text></g>
<g id="a3" class="n"><rect x="1038.3" y="2550.1" width="89.8" height="16.4"/><text x="1042.3" y="2561.2">1、自己整理历史大事年表</text></g>
<g id="a4" class="n"><rect x="1141.8" y="2563.1" width="150.5" height="53.2"/><text x="1145.8" y="2574.2"><tspan>比如：先秦文化和古希腊文化的比对，西方工</tspan><tspan x="1145.8" dy="9.2">业革命和中国同时期的比对;我们在历史复习</tspan><tspan x="1145.8" dy="9.2">中，应该自己总结和提炼出不同的同时期比对</tspan><tspan x="1145.8" dy="9.2">专题，将我们的历史知识相互联系起来，建立</tspan><tspan x="1145.8" dy="9.2">起脉络和体系。</tspan></text></g>
<g id="a5" class="n"><rect x="1141.8" y="2632.1" width="150.5" height="44"/><text x="1145.8" y="2643.2"><tspan>不过整理历史年代表的时候，不要一口气抄完</tspan><tspan x="1145.8" dy="9.2">，而是应该每整理一段，就掌握好一段内容，</tspan><tspan x="1145.8" dy="9.2">将这段知识内容和重要事件全都记忆下来，不</tspan><tspan x="1145.8" dy="9.2">能敷衍了事。</tspan></text></g>
<g id="a6" class="n"><rect x="1141.8" y="2691.3" width="150.5" height="62.4"/><text x="1145.8" y="2702.4"><tspan>例如做历史选择题时，一要定，二要细。试卷</tspan><tspan x="1145.8" dy="9.2">发下来时,先大体浏览一遍题目，粗略了解难</tspan><tspan x="1145.8" dy="9.2">度，使自己心中有数。做题之前，要对题目考</tspan><tspan x="1145.8" dy="9.2">点粗略感知。选择题的考点是有顺序的，即"</tspan><tspan x="1145.8" dy="9.2">中国古代史、中国近代史、中国现代史、世界</tspan><tspan x="1145.8" dy="9.2">古代史、世界近代史、世界现代史"。</tspan></text></g>
<g id="a7" class="n"><rect x="1038.3" y="2758" width="89.8" height="16.4"/><text x="1042.3" y="2769.1">2、不同题型不同做题方式</text></g>
<g id="a8" class="n"><rect x="1141.8" y="2769.1" width="150.5" height="80.8"/><text x="1145.8" y="2780.2"><tspan>开始做题时，要动手用笔画出题目中的关键词</tspan><tspan x="1145.8" dy="9.2">，这是极为关键的破题点。为了增加难度,有</tspan><tspan x="1145.8" dy="9.2">一些题目的中心词或限制词有意扩充、复杂化</tspan><tspan x="1145.8" dy="9.2">,使学生在答题时要绕几个弯。这时,我们就需</tspan><tspan x="1145.8" dy="9.2">要将复杂的题目简化，可以像做语文一样，划</tspan><tspan x="1145.8" dy="9.2">出题目的主、谓、宾，依据这些关键词来分析</tspan><tspan x="1145.8" dy="9.2">被选项。题目常出现的词有"-、特点是、含</tspan><tspan x="1145.8" dy="9.2">义是、原因是、变化有、影响有、"等等。</tspan></text></g>
<g id="a9" class="n"><rect x="1155.8" y="2864.9" width="150.5" height="53.2"/><text x="1159.8" y="2876"><tspan>形成框架之后，反复记忆课本上的内容，然后</tspan><tspan x="1159.8" dy="9.2">通过深入思考，找出不同历史现象的本质，找</tspan><tspan x="1159.8" dy="9.2">出不同历史现象的共性和个性，总结出一个又</tspan><tspan x="1159.8" dy="9.2">一个知识点，例如，封建社会的生产关系的特</tspan><tspan x="1159.8" dy="9.2">点。</tspan></text></g>
<g id="a10" class="n"><rect x="1038.3" y="2913.1" width="104.2" height="16.4"/><text x="1042.3" y="2924.2">3、形成完整清晰的知识体系。</text></g>
<g id="a11" class="n"><rect x="1155.8" y="2933.1" width="150.5" height="34.8"/><text x="1159.8" y="2944.2"><tspan>然后，把各个知识点的各个方面的联系和区别</tspan><tspan x="1159.8" dy="9.2">找起来，例如，找出封建社会的生产关系和资</tspan><tspan x="1159.8" dy="9.2">本主义的生产关系的区别，并记准记牢。</tspan></text></g>

<g id="st1" class="n"><rect x="1107.8" y="2984" width="139.4" height="16.2"/><text x="1111.8" y="2995">★ 高中必修三具体的历史知识点总结2022</text></g>
<g id="st2" class="n"><rect x="1107.8" y="3015.4" width="139.4" height="16.2"/><text x="1111.8" y="3026.4">★ 2022历史高考文综必背知识点总结最新</text></g>
<g id="st3" class="n"><rect x="1107.8" y="3047.2" width="110.9" height="16.2"/><text x="1111.8" y="3058.2">★ 关于2021高中历史基础知识点</text></g>
<g id="st4" class="n"><rect x="1107.8" y="3079" width="122.7" height="16.2"/><text x="1111.8" y="3090">★ 关于高一必修历史知识点总结梳理</text></g>
<g id="st5" class="n"><rect x="1107.8" y="3110.5" width="103.5" height="16.2"/><text x="1111.8" y="3121.5">★ 高考历史必背的知识点2021</text></g>
<g id="st6" class="n"><rect x="1107.8" y="3142.3" width="132" height="16.2"/><text x="1111.8" y="3153.3">★ 高中历史水平考常考知识点总结2021</text></g>
<g id="st7" class="n"><rect x="1107.8" y="3174" width="101.3" height="16.2"/><text x="1111.8" y="3185">★ 高一必考历史知识点有哪些</text></g>
<g id="st8" class="n"><rect x="1107.8" y="3205.5" width="132" height="16.2"/><text x="1111.8" y="3216.5">★ 高一历史必修一常备知识点整理2021</text></g>
<g id="st9" class="n"><rect x="1107.8" y="3237.3" width="65.4" height="16.2"/><text x="1111.8" y="3248.3">★ 高中历史知识点</text></g>
<g id="st10" class="n"><rect x="1107.8" y="3269" width="117.9" height="16.2"/><text x="1111.8" y="3280">★ 高三历史必修三知识点归纳2021</text></g>
</svg>
